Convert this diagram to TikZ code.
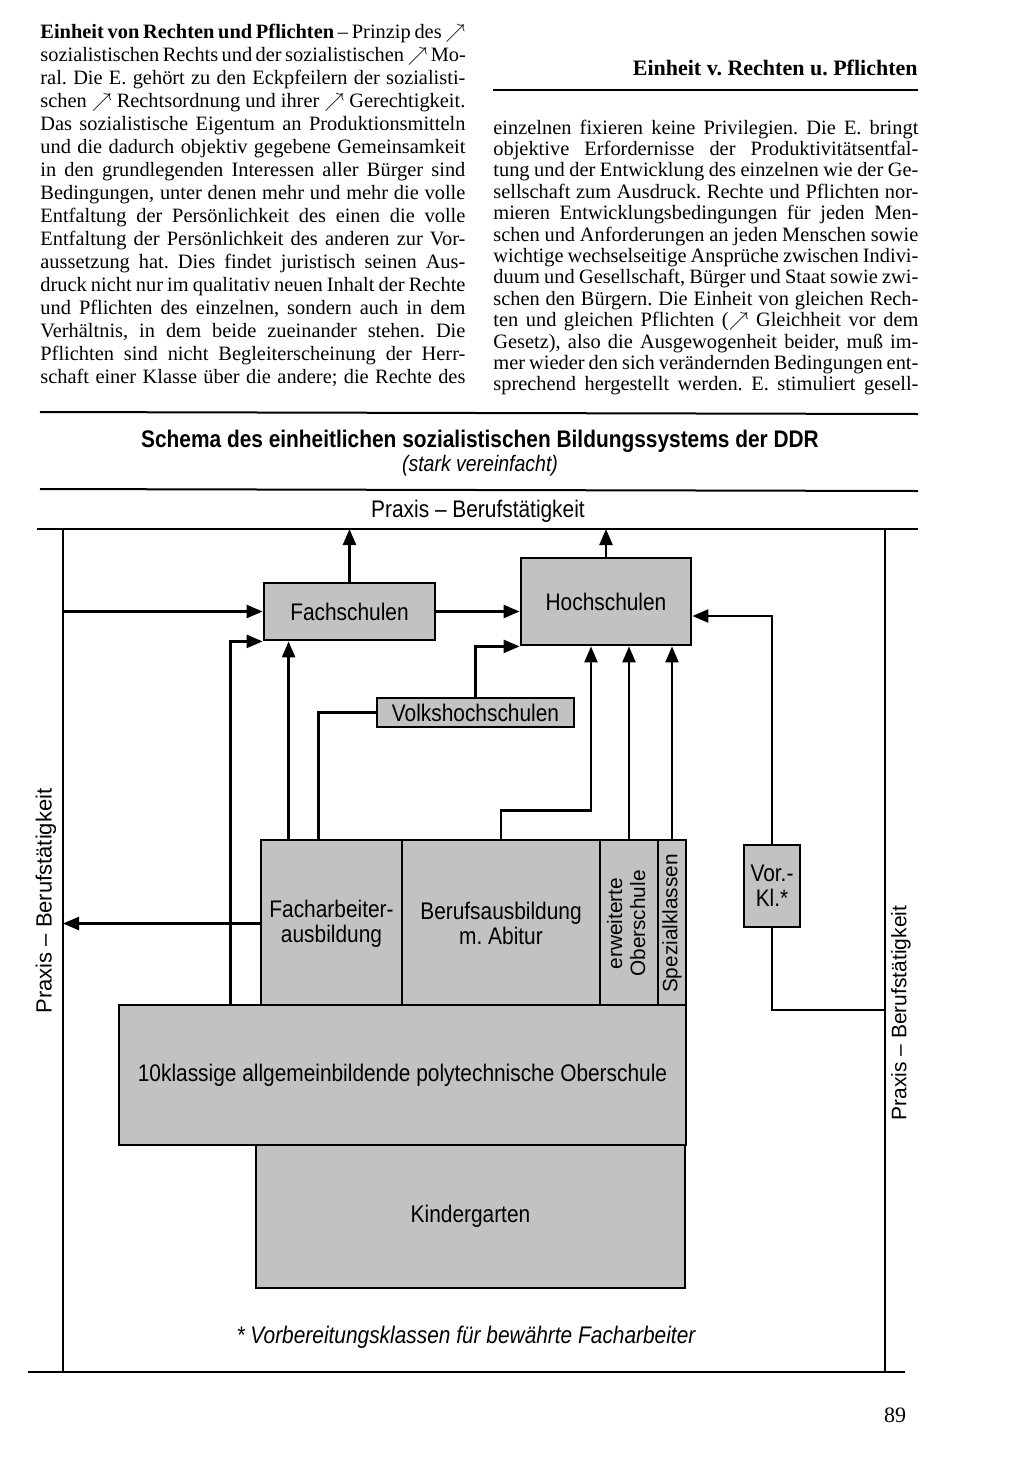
\documentclass[tikz,border=0pt]{standalone}
\usepackage{fontspec}
\setmainfont{Liberation Serif}
\newfontfamily\diagfont{Liberation Sans}[FakeStretch=0.87]
\newfontfamily\sidefont{Liberation Sans}
\usetikzlibrary{arrows.meta}

\definecolor{boxgray}{gray}{0.76}
\newcommand\textrow[1]{\makebox[\linewidth][s]{#1}\par}
\frenchspacing

\tikzset{
  box/.style={draw, fill=boxgray, line width=1.4bp, inner sep=0pt, align=center,
    font=\diagfont\fontsize{12bp}{12.5bp}\selectfont},
  conn/.style={line width=1.2bp},
  arr/.style={conn, -{Triangle[length=8bp,width=6.5bp]}},
  rule/.style={line width=1bp},
  frame/.style={line width=1.4bp},
  side/.style={font=\sidefont\fontsize{10.5bp}{11.5bp}\selectfont, rotate=90},
  label/.style={font=\diagfont\fontsize{12bp}{14bp}\selectfont}
}

\begin{document}
\begin{tikzpicture}[x=0.5bp, y=-0.5bp]
  \useasboundingbox (0,0) rectangle (1024,1480);

  % text columns
  \node[anchor=base west, inner sep=0pt] (leftcol) at (40,38) {\parbox[t]{212.5bp}{\fontsize{10.2bp}{11.5bp}\selectfont
    \textrow{\textbf{Einheit von Rechten und Pflichten} – Prinzip des $\nearrow$}
    \textrow{sozialistischen Rechts und der sozialistischen $\nearrow$ Mo-}
    \textrow{ral. Die E. gehört zu den Eckpfeilern der sozialisti-}
    \textrow{schen $\nearrow$ Rechtsordnung und ihrer $\nearrow$ Gerechtigkeit.}
    \textrow{Das sozialistische Eigentum an Produktionsmitteln}
    \textrow{und die dadurch objektiv gegebene Gemeinsamkeit}
    \textrow{in den grundlegenden Interessen aller Bürger sind}
    \textrow{Bedingungen, unter denen mehr und mehr die volle}
    \textrow{Entfaltung der Persönlichkeit des einen die volle}
    \textrow{Entfaltung der Persönlichkeit des anderen zur Vor-}
    \textrow{aussetzung hat. Dies findet juristisch seinen Aus-}
    \textrow{druck nicht nur im qualitativ neuen Inhalt der Rechte}
    \textrow{und Pflichten des einzelnen, sondern auch in dem}
    \textrow{Verhältnis, in dem beide zueinander stehen. Die}
    \textrow{Pflichten sind nicht Begleiterscheinung der Herr-}
    \textrow{schaft einer Klasse über die andere; die Rechte des}}};

  \node[anchor=base east, inner sep=0pt, font=\bfseries\fontsize{11bp}{13bp}\selectfont] (runhead) at (918,75) {Einheit v. Rechten u. Pflichten};
  \draw[rule] (493,90) -- (918,90);

  \node[anchor=base west, inner sep=0pt] (rightcol) at (493,134) {\parbox[t]{212.5bp}{\fontsize{10.2bp}{10.7bp}\selectfont
    \textrow{einzelnen fixieren keine Privilegien. Die E. bringt}
    \textrow{objektive Erfordernisse der Produktivitätsentfal-}
    \textrow{tung und der Entwicklung des einzelnen wie der Ge-}
    \textrow{sellschaft zum Ausdruck. Rechte und Pflichten nor-}
    \textrow{mieren Entwicklungsbedingungen für jeden Men-}
    \textrow{schen und Anforderungen an jeden Menschen sowie}
    \textrow{wichtige wechselseitige Ansprüche zwischen Indivi-}
    \textrow{duum und Gesellschaft, Bürger und Staat sowie zwi-}
    \textrow{schen den Bürgern. Die Einheit von gleichen Rech-}
    \textrow{ten und gleichen Pflichten ($\nearrow$ Gleichheit vor dem}
    \textrow{Gesetz), also die Ausgewogenheit beider, muß im-}
    \textrow{mer wieder den sich verändernden Bedingungen ent-}
    \textrow{sprechend hergestellt werden. E. stimuliert gesell-}}};

  % schema heading
  \draw[rule] (40,412) -- (918,414);
  \node[font=\diagfont\bfseries\fontsize{12bp}{14bp}\selectfont] (title) at (480,441) {Schema des einheitlichen sozialistischen Bildungssystems der DDR};
  \node[font=\diagfont\itshape\fontsize{11.2bp}{13bp}\selectfont] (subtitle) at (480,466) {(stark vereinfacht)};
  \draw[rule] (40,489) -- (918,491);
  \node[label] (praxistop) at (478,511) {Praxis – Berufstätigkeit};

  % frame
  \coordinate (ftop) at (0,529);
  \coordinate (lframe) at (63,0);
  \coordinate (vkend) at (885,1010);
  \draw[frame] (37,529) -- (918,529);
  \draw[frame] (63,529) -- (63,1372);
  \draw[frame] (885,529) -- (885,1372);
  \draw[frame] (28,1372) -- (905,1372);
  \node[side, font=\sidefont\fontsize{11bp}{12bp}\selectfont] (praxisleft) at (46,901) {Praxis – Berufstätigkeit};
  \node[side] (praxisright) at (901,1013) {Praxis – Berufstätigkeit};

  % schools
  \node[box, minimum width=85.5bp, minimum height=28.5bp] (fach) at (349.5,611.5) {Fachschulen};
  \node[box, minimum width=85bp, minimum height=43.5bp] (hoch) at (606,601.5) {Hochschulen};
  \node[box, minimum width=98.5bp, minimum height=14.5bp] (volks) at (475.5,712.5) {Volkshochschulen};
  \node[box, minimum width=70.5bp, minimum height=83.5bp] (facharb) at (331.5,923.5) {Facharbeiter-\\ausbildung};
  \node[box, minimum width=99bp, minimum height=83.5bp] (berufabi) at (501,923.5) {Berufsausbildung\\m. Abitur};
  \node[box, minimum width=29bp, minimum height=83.5bp, font=\sidefont\fontsize{10.4bp}{11.5bp}\selectfont] (eos) at (629,923.5)
    {\rotatebox{90}{\begin{tabular}{@{}c@{}}erweiterte\\Oberschule\end{tabular}}};
  \node[box, minimum width=14bp, minimum height=83.5bp, font=\sidefont\fontsize{10.4bp}{11.5bp}\selectfont] (spez) at (672,923.5)
    {\rotatebox{90}{Spezialklassen}};
  \node[box, minimum width=28bp, minimum height=41bp] (vorkl) at (772,886) {Vor.-\\Kl.*};
  \node[box, minimum width=283.5bp, minimum height=70bp] (poly) at (402.5,1075) {10klassige allgemeinbildende polytechnische Oberschule};
  \node[box, minimum width=214.5bp, minimum height=71.5bp] (kinder) at (470.5,1216.5) {Kindergarten};

  % connectors
  \draw[arr] (fach.north) -- (fach.north |- ftop);
  \draw[arr] (hoch.north) -- (hoch.north |- ftop);
  \draw[arr] (fach.west -| lframe) -- (fach.west);
  \draw[arr] (fach.east) -- (fach.east -| hoch.west);
  \draw[arr] ([xshift=56.5bp]poly.north west) |- (fach.south west);
  \draw[arr] ([xshift=14.5bp]facharb.north west) coordinate (fa1) -- (fa1 |- fach.south);
  \draw[conn] ([xshift=29.5bp]facharb.north west) |- (volks.west);
  \draw[arr] (volks.north) |- (hoch.south west);
  \draw[arr] (berufabi.north) -- ++(0,-28) -| ([xshift=-7.5bp]hoch.south);
  \draw[arr] (eos.north) -- (eos.north |- hoch.south);
  \draw[arr] (spez.north) -- (spez.north |- hoch.south);
  \draw[arr] (vorkl.north) |- ([yshift=-7.25bp]hoch.east);
  \draw[conn] (vorkl.south) |- (vkend);
  \draw[arr] (facharb.west) -- (facharb.west -| lframe);

  \node[font=\diagfont\itshape\fontsize{12bp}{14bp}\selectfont] (footnote) at (466,1337) {* Vorbereitungsklassen für bewährte Facharbeiter};
  \node[font=\fontsize{11bp}{13bp}\selectfont] (pagenum) at (895,1415) {89};
\end{tikzpicture}
\end{document}
